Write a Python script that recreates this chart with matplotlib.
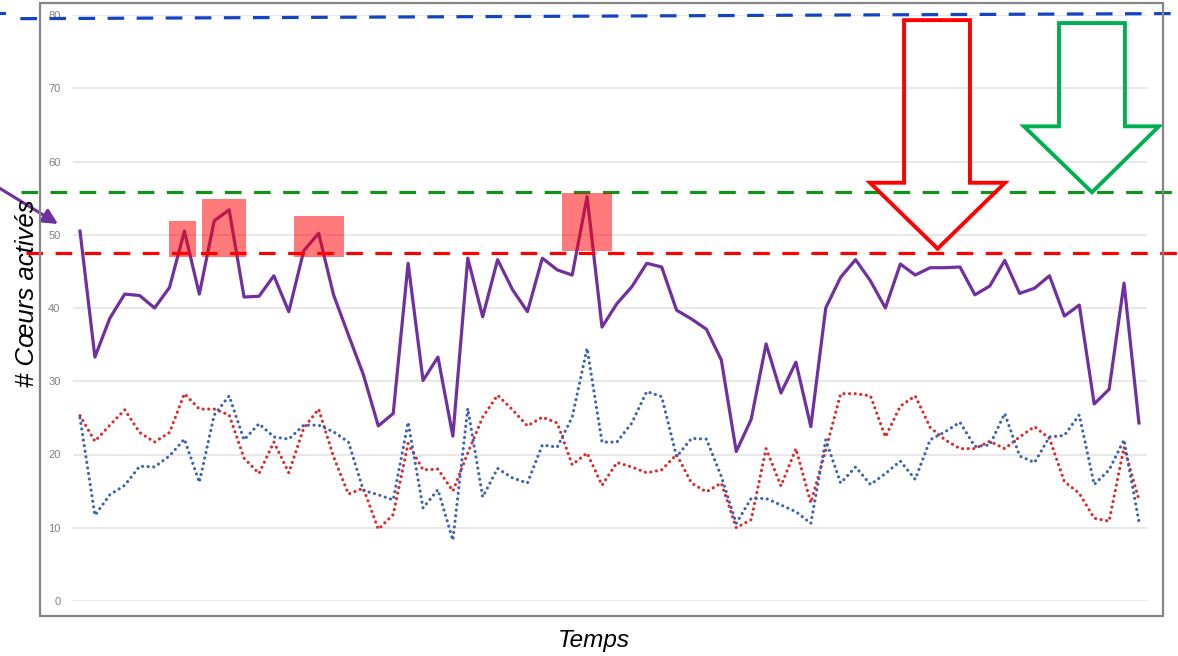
import matplotlib.pyplot as plt
from matplotlib.patches import Polygon, Rectangle
import numpy as np

plt.rcParams["font.family"] = ["Liberation Sans", "DejaVu Sans"]

# active cores over time (three series)
total = [50.5, 33.3, 38.6, 41.9, 41.7, 40.0, 42.8, 50.5, 41.9, 51.9, 53.4, 41.5,
         41.6, 44.4, 39.5, 47.8, 50.2, 41.8, 36.3, 30.9, 23.9, 25.6, 46.1, 30.1,
         33.3, 22.5, 46.8, 38.8, 46.6, 42.5, 39.5, 46.8, 45.2, 44.5, 55.2, 37.4,
         40.6, 42.9, 46.1, 45.6, 39.7, 38.5, 37.1, 32.9, 20.4, 24.8, 35.1, 28.4,
         32.6, 23.8, 40.0, 44.2, 46.6, 43.7, 40.0, 46.0, 44.5, 45.5, 45.5, 45.6,
         41.8, 43.0, 46.5, 42.0, 42.7, 44.4, 38.9, 40.4, 26.9, 28.9, 43.4, 24.3]
blue_s = [25.0, 11.7, 14.5, 15.8, 18.4, 18.3, 19.8, 22.1, 16.2, 25.4, 28.0, 22.0,
          24.2, 22.4, 22.1, 24.0, 24.0, 23.1, 21.7, 15.1, 14.5, 13.8, 24.4, 12.7,
          15.2, 8.3, 26.3, 14.2, 18.1, 16.8, 16.1, 21.3, 21.0, 25.1, 34.5, 21.7,
          21.7, 24.3, 28.6, 27.9, 19.7, 22.2, 22.1, 17.0, 10.6, 14.0, 14.0, 13.1,
          12.2, 10.6, 22.0, 16.1, 18.3, 15.9, 17.4, 19.1, 16.6, 22.0, 23.1, 24.4,
          21.1, 21.3, 25.6, 19.8, 18.9, 22.4, 22.6, 25.4, 15.9, 17.9, 22.0, 10.8]
red_s = [25.3, 21.8, 24.0, 26.1, 23.0, 21.7, 23.0, 28.3, 26.2, 26.2, 25.4, 19.5,
         17.4, 21.7, 17.5, 23.6, 26.2, 19.7, 14.6, 15.4, 9.8, 11.8, 21.5, 17.9,
         18.0, 15.0, 20.2, 25.1, 28.1, 26.1, 23.9, 25.1, 24.3, 18.6, 20.2, 15.8,
         18.9, 18.3, 17.5, 17.9, 20.0, 16.1, 14.9, 16.1, 10.0, 11.1, 20.8, 15.7,
         20.8, 13.4, 20.6, 28.3, 28.3, 28.0, 22.4, 26.6, 28.0, 23.7, 22.0, 20.8,
         20.8, 21.8, 20.8, 22.4, 23.8, 22.2, 16.3, 14.7, 11.3, 10.9, 21.0, 13.8]

# thresholds (blue one is slightly tilted in the source)
blue_lim = (79.5, 80.2)
green_lim = 55.8
red_lim = 47.5

# highlighted peaks: (x0, x1, y0, y1)
peaks = [(5.97, 7.78, 47.0, 51.9), (8.18, 11.13, 47.0, 54.9),
         (14.35, 17.70, 47.0, 52.6), (32.32, 35.67, 47.8, 55.7)]

W, H = 1178, 656
fig = plt.figure(figsize=(W / 100, H / 100), dpi=100)
ax = fig.add_axes([73 / W, 55 / H, 1074 / W, 586 / H])

x = np.arange(len(total))
dots = (0, (0.01, 1.75))
ax.plot(x, red_s, color='#DC2A2E', lw=2.3, linestyle=dots,
        dash_capstyle='round', zorder=3)
ax.plot(x, blue_s, color='#3D64B0', lw=2.3, linestyle=dots,
        dash_capstyle='round', zorder=3)
ax.plot(x, total, color='#7030A0', lw=2.3, zorder=4)

ax.set_xlim(-0.469, 71.54)
ax.set_ylim(0, 80)
ax.set_yticks(range(0, 81, 10))
ax.set_xticks([])
ax.tick_params(axis='y', length=0, pad=9, labelsize=8, labelcolor='#808080')
ax.yaxis.grid(True, color='#E4E4E4', lw=1.2)
ax.set_axisbelow(True)
for s in ax.spines.values():
    s.set_visible(False)

# threshold lines, running past the plot area
tr = ax.get_yaxis_transform()
xa1 = 1.03
ax.plot([-0.049, xa1], blue_lim, color='#1444C4', lw=2.3, dashes=(5.2, 3.9),
        transform=tr, clip_on=False, zorder=5)
ax.plot([-0.048, xa1], [green_lim] * 2, color='#12921A', lw=2.3, dashes=(5.2, 3.9),
        transform=tr, clip_on=False, zorder=5)
ax.plot([-0.044, xa1], [red_lim] * 2, color='#FF0000', lw=2.3, dashes=(5.2, 3.9),
        transform=tr, clip_on=False, zorder=5)

for x0, x1, y0, y1 in peaks:
    ax.add_patch(Rectangle((x0, y0), x1 - x0, y1 - y0, color='#FF0000',
                           alpha=0.52, lw=0, zorder=6))


def down_arrow(sl, sr, top, neck, hl, hr, tipx, tipy, col):
    pts = [(sl, top), (sr, top), (sr, neck), (hr, neck), (tipx, tipy),
           (hl, neck), (sl, neck)]
    ax.add_patch(Polygon(pts, closed=True, fill=False, ec=col, lw=2.8,
                         joinstyle='miter', clip_on=False, zorder=7))


down_arrow(55.25, 59.67, 79.3, 57.1, 52.97, 62.02, 57.5, red_lim + 0.6, '#FF0000')
down_arrow(65.64, 70.06, 78.9, 64.8, 63.29, 72.34, 67.85, green_lim, '#00B050')

# outer chart frame
fig.add_artist(Rectangle((40 / W, 40 / H), 1123 / W, 613 / H, transform=fig.transFigure,
                         fill=False, ec='#858585', lw=1.6))

# purple pointer from the left edge
ax.annotate('', xy=(58, H - 224), xycoords='figure pixels',
            xytext=(-4, H - 186), textcoords='figure pixels',
            arrowprops=dict(arrowstyle='-|>,head_length=0.9,head_width=0.45',
                            color='#7030A0', lw=2.2, shrinkA=0, shrinkB=0))
fig.add_artist(plt.Line2D([0, 4 / W], [1 - 13 / H, 1 - 13 / H], color='#1444C4',
                          lw=2.2, transform=fig.transFigure))

fig.text(27 / W, 1 - 293 / H, '# Cœurs activés', rotation=90, style='italic',
         fontsize=18.5, ha='center', va='center')
fig.text(594 / W, 1 - 640 / H, 'Temps', style='italic', fontsize=17.5,
         ha='center', va='center')

fig.savefig('out.png', dpi=100)
